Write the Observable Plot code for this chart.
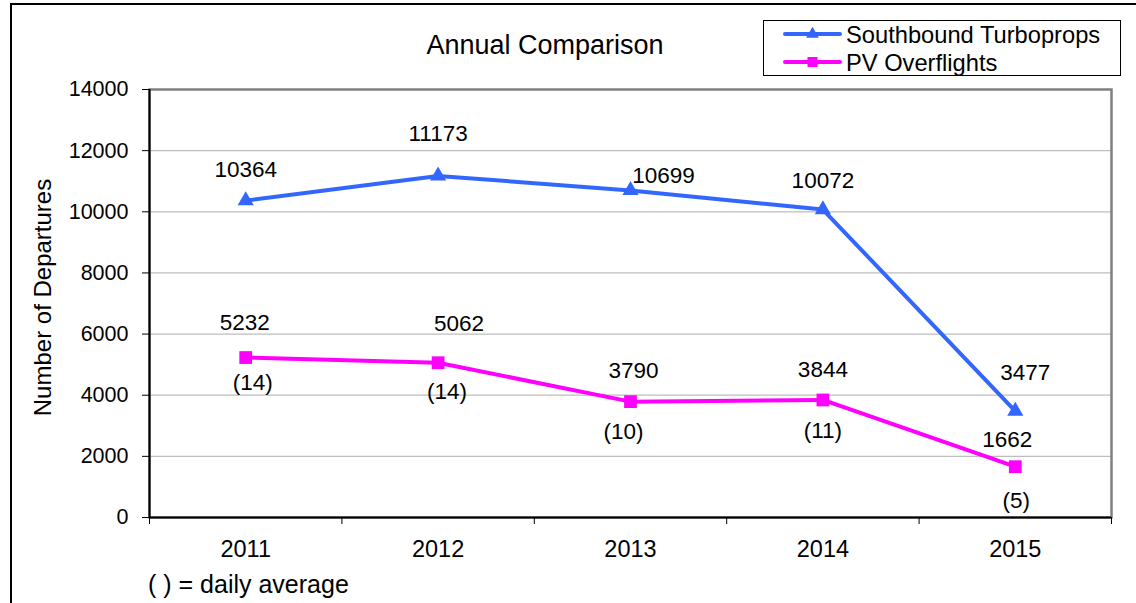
<!DOCTYPE html>
<html>
<head>
<meta charset="utf-8">
<script src="https://cdn.jsdelivr.net/npm/d3@7"></script>
<script src="https://cdn.jsdelivr.net/npm/@observablehq/plot@0.6"></script>
<style>
  html, body { margin: 0; padding: 0; background: #fff; }
  body { width: 1136px; height: 603px; overflow: hidden; position: relative; font-family: "Liberation Sans", Arial, sans-serif; }
  #wrap { position: absolute; left: 0; top: 0; width: 1136px; height: 603px; overflow: hidden; }
  #border { position: absolute; left: 10px; top: 3px; width: 2000px; height: 2000px; border-top: 2px solid #000; border-left: 2px solid #000; box-sizing: border-box; }
  #title { position: absolute; top: 30px; left: 0; width: 1090px; text-align: center; font-size: 27px; color: #000; }
  #legend { position: absolute; left: 763px; top: 20px; width: 358px; height: 56px; border: 1.5px solid #000; background: #fff; box-sizing: border-box; }
  #caption { position: absolute; left: 148px; top: 570px; font-size: 25px; line-height: 29px; white-space: pre; color: #000; }
  svg text { font-family: "Liberation Sans", Arial, sans-serif; }
</style>
</head>
<body>
<div id="wrap">
  <div id="border"></div>
  <div id="chart" style="position:absolute;left:0;top:0;"></div>
  <div id="title"></div>
  <div id="legend"></div>
  <div id="caption"></div>
</div>
<script>
// ---- Data ----
const years = [2011, 2012, 2013, 2014, 2015];
const southboundTurboprops = [10364, 11173, 10699, 10072, 3477];
const pvOverflights = [5232, 5062, 3790, 3844, 1662];
const pvDailyAverage = [14, 14, 10, 11, 5];
const seriesNames = ["Southbound Turboprops", "PV Overflights"];
const yTicks = [0, 2000, 4000, 6000, 8000, 10000, 12000, 14000];
const titleText = "Annual Comparison";
const yLabel = "Number of Departures";
const captionText = "( ) = daily average";

// ---- Styles (label nudges in pixels, [dx, dy]) ----
const blue = "#3366FF";
const pink = "#FF00FF";
const sbLabelNudge = [[0, -31], [0, -42], [33, -15], [0, -29], [10, -38]];
const pvLabelNudge = [[-1, -35], [21, -39], [3, -31], [0, -30], [-8, -27]];
const avgLabelNudge = [[7, 25], [9, 29], [-7, 30], [0, 31], [1, 34]];

const sb = years.map((yr, i) => ({year: yr, value: southboundTurboprops[i]}));
const pv = years.map((yr, i) => ({year: yr, value: pvOverflights[i], avg: pvDailyAverage[i]}));
const boundaries = years.map(y => y - 0.5).concat([years[years.length - 1] + 0.5]);

const labelMarks = [];
sb.forEach((d, i) => labelMarks.push(Plot.text([d], {x: "year", y: "value", text: e => String(e.value), dx: sbLabelNudge[i][0], dy: sbLabelNudge[i][1], fontSize: 22.5, fill: "#000"})));
pv.forEach((d, i) => labelMarks.push(Plot.text([d], {x: "year", y: "value", text: e => String(e.value), dx: pvLabelNudge[i][0], dy: pvLabelNudge[i][1], fontSize: 22.5, fill: "#000"})));
pv.forEach((d, i) => labelMarks.push(Plot.text([d], {x: "year", y: "value", text: e => `(${e.avg})`, dx: avgLabelNudge[i][0], dy: avgLabelNudge[i][1], fontSize: 22.5, fill: "#000"})));

const chart = Plot.plot({
  width: 1136,
  height: 603,
  marginLeft: 149,
  marginRight: 25,
  marginTop: 89,
  marginBottom: 86,
  style: {fontFamily: "Liberation Sans, Arial, sans-serif", background: "transparent", color: "#000"},
  x: {type: "linear", domain: [years[0] - 0.5, years[years.length - 1] + 0.5], label: null},
  y: {domain: [0, 14000], label: null},
  marks: [
    Plot.gridY(yTicks.slice(1, -1), {stroke: "#BDBDBD", strokeOpacity: 1, strokeWidth: 1.2}),
    Plot.frame({stroke: "#808080", strokeWidth: 2.5}),
    Plot.ruleY([0], {stroke: "#000", strokeWidth: 2}),
    Plot.ruleX([boundaries[0]], {stroke: "#000", strokeWidth: 2}),
    Plot.axisY({ticks: yTicks, tickSize: 7, tickPadding: 14, fontSize: 21.5, tickFormat: d3.format("d"), label: null, stroke: "#000"}),
    Plot.axisX({ticks: boundaries, tickSize: 7, tickFormat: () => "", label: null, stroke: "#000"}),
    Plot.axisX({ticks: years, tickSize: 0, tickPadding: 23, fontSize: 23.5, tickFormat: d => String(d), label: null}),
    Plot.text([yLabel], {frameAnchor: "left", textAnchor: "middle", dx: -106, dy: -6, rotate: -90, fontSize: 24, fill: "#000"}),
    Plot.lineY(sb, {x: "year", y: "value", stroke: blue, strokeWidth: 4}),
    Plot.lineY(pv, {x: "year", y: "value", stroke: pink, strokeWidth: 4}),
    Plot.dot(sb, {x: "year", y: "value", symbol: "triangle", r: 6, fill: blue, stroke: "none"}),
    Plot.dot(pv, {x: "year", y: "value", symbol: "square", r: 7.2, fill: pink, stroke: "none"}),
    ...labelMarks
  ]
});
document.getElementById("chart").appendChild(chart);

document.getElementById("title").textContent = titleText;
document.getElementById("caption").textContent = captionText;

// Legend
const ns = "http://www.w3.org/2000/svg";
const lg = document.createElementNS(ns, "svg");
lg.setAttribute("width", 356);
lg.setAttribute("height", 54);
lg.style.position = "absolute";
lg.style.left = "0px";
lg.style.top = "0px";
const items = [
  {name: seriesNames[0], color: blue, sym: d3.symbolTriangle, size: 70, y: 13},
  {name: seriesNames[1], color: pink, sym: d3.symbolSquare, size: 100, y: 41}
];
for (const it of items) {
  const ln = document.createElementNS(ns, "line");
  ln.setAttribute("x1", 21); ln.setAttribute("x2", 76);
  ln.setAttribute("y1", it.y); ln.setAttribute("y2", it.y);
  ln.setAttribute("stroke", it.color); ln.setAttribute("stroke-width", 4);
  ln.setAttribute("stroke-linecap", "round");
  lg.appendChild(ln);
  const p = document.createElementNS(ns, "path");
  p.setAttribute("d", d3.symbol(it.sym, it.size)());
  p.setAttribute("transform", `translate(48.5,${it.y})`);
  p.setAttribute("fill", it.color);
  lg.appendChild(p);
  const t = document.createElementNS(ns, "text");
  t.setAttribute("x", 82); t.setAttribute("y", it.y);
  t.setAttribute("dy", "0.36em");
  t.setAttribute("font-size", 23.7);
  t.setAttribute("fill", "#000");
  t.textContent = it.name;
  lg.appendChild(t);
}
document.getElementById("legend").appendChild(lg);
</script>
</body>
</html>
